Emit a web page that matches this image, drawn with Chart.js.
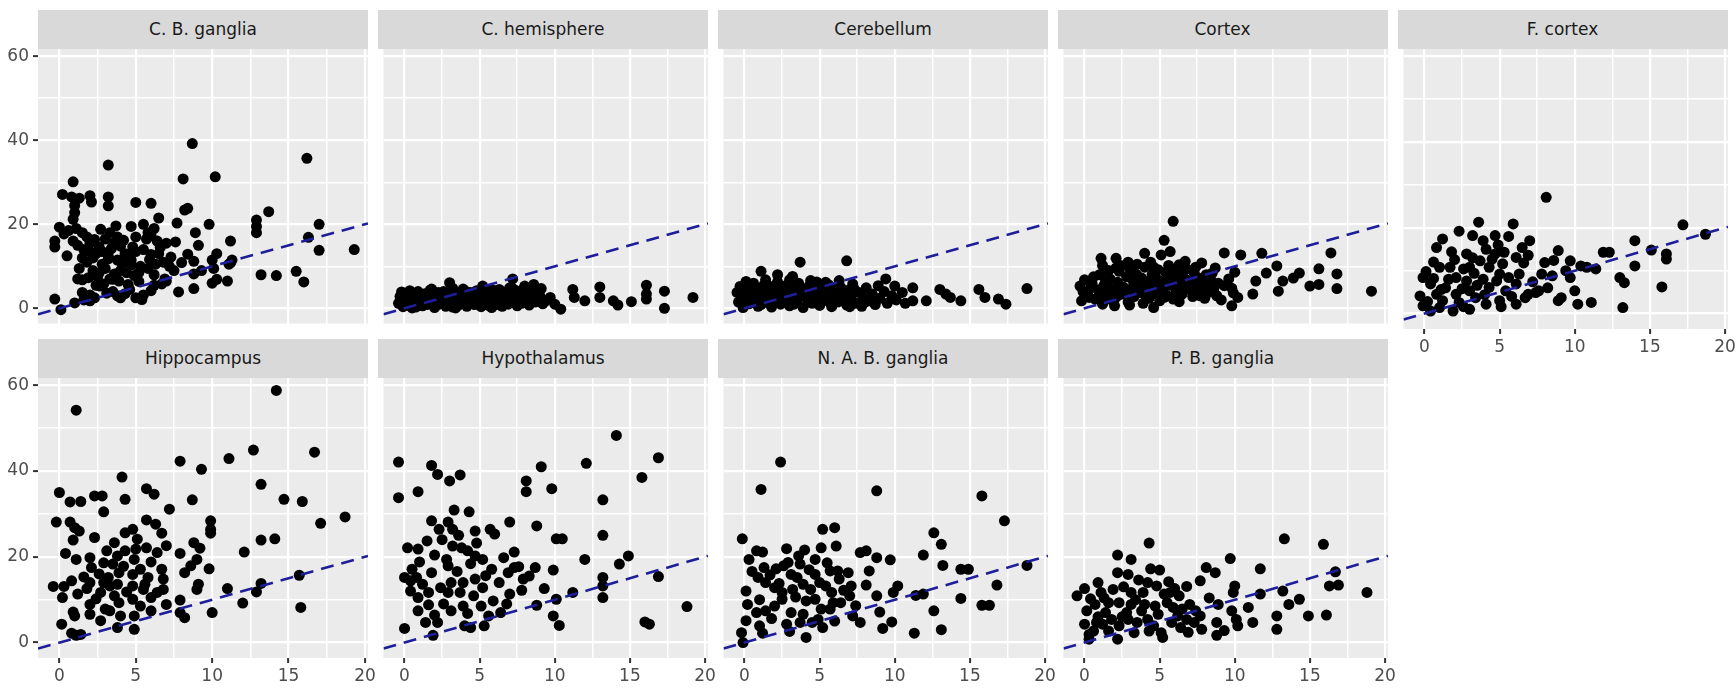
<!DOCTYPE html>
<html>
<head>
<meta charset="utf-8">
<script src="https://cdn.jsdelivr.net/npm/chart.js@4.4.0/dist/chart.umd.min.js"></script>
<style>
  body { margin: 0; background: #fff; width: 1736px; height: 688px; overflow: hidden; position: relative; }
  .strip { position: absolute; background: #D9D9D9; color: #1A1A1A; font-family: "DejaVu Sans", sans-serif; font-size: 17px; text-align: center; }
  canvas { position: absolute; }
</style>
</head>
<body>
<script>
// Panel names (facets)
const regions = ['C. B. ganglia', 'C. hemisphere', 'Cerebellum', 'Cortex', 'F. cortex',
                 'Hippocampus', 'Hypothalamus', 'N. A. B. ganglia', 'P. B. ganglia'];

// Points per panel, [x, y]
const cbGanglia = [[8.7,39.2],[16.2,35.7],[3.2,34.1],[8.1,30.8],[10.2,31.3],[0.9,30.1],[0.2,27.1],[0.8,26.5],[1.3,26.2],[2.0,26.8],
  [2.1,25.3],[3.2,26.5],[3.2,24.4],[6.0,25.0],[5.0,25.2],[1.0,24.5],[1.0,22.8],[0.9,21.2],[8.4,23.8],[8.2,23.4],[0.0,19.3],[0.3,17.7],
  [-0.3,16.0],[-0.3,14.6],[1.5,18.0],[1.8,17.0],[3.3,18.0],[3.0,16.5],[3.8,17.0],[3.5,15.5],[4.7,19.5],[5.5,20.0],[6.5,21.5],[5.0,17.0],
  [5.7,16.5],[6.4,16.0],[6.2,19.0],[0.9,16.0],[1.2,15.0],[1.6,14.0],[2.0,13.5],[2.4,13.0],[2.8,13.5],[3.2,12.5],[1.5,12.0],[2.2,12.0],
  [7.7,20.3],[8.9,18.0],[9.8,20.0],[7.6,15.8],[8.4,12.9],[9.1,15.0],[8.8,11.2],[10.0,11.5],[10.3,13.0],[10.1,9.5],[5.5,14.0],[6.0,12.8],
  [6.6,14.5],[7.0,15.5],[4.3,13.0],[4.7,11.5],[5.3,10.0],[5.8,9.5],[6.3,10.5],[6.2,8.0],[7.0,6.5],[11.2,16.0],[11.1,10.5],[11.0,6.5],
  [12.9,21.0],[12.9,19.5],[12.9,18.0],[13.7,23.0],[13.2,8.0],[14.2,7.8],[15.5,8.8],[16.0,6.3],[16.3,16.9],[17.0,20.0],[17.0,13.8],
  [19.3,14.0],[10.0,6.0],[10.3,6.9],[8.8,8.2],[8.8,4.7],[7.8,3.9],[8.0,10.9],[11.3,11.5],[11.2,10.8],[-0.3,2.2],[0.1,-0.3],[1.0,1.3],
  [1.6,2.0],[2.0,1.8],[2.3,2.5],[1.2,7.0],[1.5,6.8],[1.9,7.3],[2.5,7.5],[2.4,5.5],[2.9,5.8],[1.5,3.8],[2.0,3.2],[3.5,4.0],[3.8,3.0],
  [4.0,2.5],[4.3,3.5],[3.3,7.0],[3.6,8.2],[3.9,6.5],[4.0,9.0],[4.4,8.5],[4.7,10.3],[4.9,7.8],[5.2,8.5],[5.0,2.5],[5.4,2.1],[5.5,3.2],
  [6.2,5.5],[6.7,5.8],[6.9,7.0],[4.4,12.5],[3.8,11.5],[2.8,10.5],[3.2,11.8],[3.5,6.9],[2.65,5.3],[4.5,5.7],[2.0,15.5],[5.8,18.0],
  [6.0,17.3],[4.2,16.2],[3.4,14.2],[4.0,14.8],[2.6,14.6],[1.8,11.0],[0.6,18.5],[7.3,12.2],[6.8,11.0],[7.5,9.0],[5.0,13.5],[9.3,9.0],
  [4.6,4.5],[3.0,9.5],[2.2,9.0],[1.3,9.5],[2.6,8.4],[3.1,3.6],[4.1,10.6],[4.8,14.6],[5.9,11.6],[6.5,13.0],[2.3,16.4],[1.1,19.0],
  [3.7,19.6],[5.2,6.4],[6.0,4.2],[7.2,10.0],[0.5,12.5],[2.7,18.8]];

const cHemisphere = [[-0.4,1.2],[-0.3,2.8],[-0.1,0.4],[0.0,3.6],[0.15,1.9],[0.2,0.8],[0.35,4.2],[0.4,2.5],[0.55,1.1],[0.6,3.1],[0.75,0.3],
  [0.8,2.0],[0.9,4.0],[1.05,1.5],[1.1,2.7],[1.2,0.6],[1.35,3.5],[1.4,1.9],[1.5,0.9],[1.65,2.4],[1.7,4.3],[1.85,1.3],[1.9,3.0],[2.0,0.2],
  [2.1,2.1],[2.25,3.8],[2.3,1.0],[2.45,2.6],[2.5,1.6],[2.6,4.0],[2.75,0.5],[2.8,3.2],[2.9,2.0],[3.0,6.1],[3.05,1.2],[3.1,2.9],[3.2,0.3],
  [3.3,3.9],[3.45,1.7],[3.5,2.4],[3.6,0.8],[3.7,3.4],[3.85,1.4],[3.9,4.6],[4.0,2.2],[4.15,0.5],[4.2,3.0],[4.3,1.1],[4.4,3.8],[4.5,2.0],
  [4.65,0.9],[4.7,2.8],[4.8,4.2],[4.95,1.5],[5.0,3.3],[5.1,0.4],[5.2,5.3],[5.25,2.3],[5.3,1.2],[5.45,3.7],[5.5,2.0],[5.6,0.7],[5.7,3.0],
  [5.85,1.7],[5.9,4.3],[6.0,2.5],[6.1,0.9],[6.2,3.5],[6.3,4.5],[6.35,1.6],[6.4,2.7],[6.5,0.5],[6.6,3.9],[6.75,1.9],[6.8,2.9],[6.9,1.0],
  [7.0,3.4],[7.1,2.2],[7.2,7.0],[7.25,4.6],[7.3,1.4],[7.4,3.0],[7.5,0.6],[7.65,2.3],[7.7,3.8],[7.8,1.2],[7.9,2.7],[8.0,5.3],[8.1,1.9],
  [8.2,3.1],[8.3,0.8],[8.5,2.5],[8.6,5.7],[8.7,1.5],[8.9,4.5],[9.0,3.0],[9.2,1.1],[9.4,1.8],[9.7,2.6],[10.0,1.0],[10.4,-0.2],[11.2,4.5],
  [11.3,2.6],[12.0,1.8],[13.0,5.1],[13.0,2.6],[13.9,1.8],[14.2,0.8],[15.1,1.6],[16.1,5.5],[16.1,3.4],[16.1,2.2],[17.3,4.1],[17.3,0.0],
  [19.2,2.6],[-0.2,3.9],[0.5,0.1],[1.3,1.2],[2.2,2.9],[3.4,0.1],[4.6,3.3],[5.8,0.2],[6.9,3.9],[7.6,1.8],[8.4,3.7],[0.3,3.0],[1.0,3.3],
  [1.8,4.6],[2.6,2.2],[3.2,4.8],[4.1,4.0],[4.9,2.5],[5.6,4.4],[6.2,1.2],[7.0,4.9],[7.8,4.3],[8.8,2.0],[9.1,4.7]];

const cerebellum = [[1.1,8.8],[3.7,11.0],[6.8,11.3],[9.4,7.0],[10.0,5.3],[11.2,4.9],[11.2,1.8],[12.1,1.8],[13.0,4.5],[13.4,3.4],
  [13.7,2.6],[14.4,1.8],[15.6,4.5],[16.0,2.6],[16.9,2.2],[17.4,1.0],[18.8,4.7],[-0.5,3.8],[-0.4,1.5],[-0.3,5.2],[-0.1,0.2],[0.0,2.9],
  [0.2,4.6],[0.3,1.1],[0.5,3.4],[0.6,6.0],[0.8,2.2],[0.9,0.5],[1.0,4.2],[1.2,2.8],[1.3,5.6],[1.5,1.4],[1.6,3.6],[1.8,0.3],[1.9,4.9],
  [2.0,2.4],[2.2,6.3],[2.3,3.2],[2.4,1.0],[2.6,4.4],[2.7,2.0],[2.8,5.5],[3.0,0.6],[3.1,3.7],[3.2,2.5],[3.4,4.8],[3.5,1.5],[3.6,6.0],
  [3.8,3.0],[3.9,0.2],[4.0,4.2],[4.2,2.1],[4.3,5.3],[4.5,1.2],[4.6,3.5],[4.8,6.3],[4.9,2.6],[5.0,0.7],[5.2,4.5],[5.3,1.9],[5.5,3.2],
  [5.6,5.6],[5.8,0.4],[5.9,2.8],[6.0,4.6],[6.2,1.5],[6.3,6.6],[6.5,3.6],[6.6,2.3],[6.8,0.8],[6.9,4.3],[7.1,2.9],[7.2,5.8],[7.4,1.2],
  [7.6,3.8],[7.8,0.5],[7.9,2.6],[8.1,4.9],[8.3,1.8],[8.5,3.4],[8.7,0.9],[8.9,5.4],[9.0,2.4],[9.3,4.0],[9.5,1.2],[9.8,3.0],[10.1,2.0],
  [10.5,3.8],[10.7,1.2],[-0.2,4.4],[0.4,2.0],[1.1,0.9],[1.7,5.2],[2.5,3.8],[3.3,1.0],[4.1,3.0],[4.7,4.0],[5.4,2.4],[6.1,3.9],[6.7,1.6],
  [7.3,4.6],[8.0,1.4],[0.7,5.0],[2.9,3.0],[3.7,5.0],[5.1,3.6],[5.7,1.3],[6.4,5.0],[7.0,0.4],[0.1,6.4],[1.4,6.8],[2.1,5.6],[3.0,6.8],
  [4.4,6.6],[5.4,6.2],[2.2,8.0],[3.2,7.6]];

const cortex = [[5.9,20.7],[5.3,16.2],[5.7,13.5],[1.1,11.9],[2.1,11.9],[4.0,13.1],[5.1,12.7],[9.3,13.2],[10.4,12.7],[11.8,13.1],
  [16.4,13.2],[7.8,10.8],[6.3,10.4],[12.8,10.1],[12.1,8.4],[14.3,8.4],[15.6,9.4],[16.8,8.2],[11.4,6.5],[13.2,6.5],[13.9,7.2],[15.0,5.3],
  [15.6,5.7],[16.8,4.7],[19.1,4.1],[12.9,4.1],[11.2,3.4],[9.8,0.6],[9.9,3.7],[8.8,3.0],[8.2,3.7],[4.6,0.2],[2.0,0.6],[-0.2,1.8],[-0.3,5.3],
  [0.2,3.5],[0.5,6.0],[0.7,2.2],[0.9,4.4],[1.0,8.0],[1.2,1.0],[1.3,5.5],[1.5,3.0],[1.6,9.0],[1.7,7.0],[1.9,4.0],[2.0,2.2],[2.2,6.2],
  [2.3,8.8],[2.4,10.2],[2.5,3.4],[2.6,5.0],[2.8,7.5],[2.9,1.5],[3.0,9.5],[3.1,4.6],[3.2,6.8],[3.3,2.8],[3.4,8.2],[3.5,10.5],[3.6,5.6],
  [3.7,3.8],[3.8,7.2],[3.9,1.2],[4.0,9.8],[4.1,4.8],[4.2,6.0],[4.3,2.4],[4.4,11.0],[4.5,8.0],[4.6,3.5],[4.7,5.2],[4.8,7.0],[4.9,9.2],
  [5.0,1.8],[5.1,4.4],[5.2,6.5],[5.4,8.6],[5.5,3.0],[5.6,10.2],[5.7,5.5],[5.8,7.6],[5.9,2.2],[6.0,9.0],[6.1,4.2],[6.2,6.4],[6.4,8.0],
  [6.5,3.4],[6.6,5.0],[6.7,7.0],[6.8,9.4],[7.0,4.6],[7.1,6.2],[7.2,2.8],[7.3,8.4],[7.5,5.6],[7.6,7.2],[7.8,4.0],[7.9,6.4],[8.0,2.4],
  [8.1,8.0],[8.3,5.2],[8.4,6.8],[8.6,4.4],[8.7,9.6],[8.9,6.0],[9.1,2.0],[9.3,5.4],[9.6,7.0],[9.8,4.8],[10.0,8.6],[10.2,2.6],[-0.1,4.0],
  [0.3,2.6],[0.6,7.5],[1.1,3.2],[1.4,6.6],[1.8,2.0],[2.1,9.6],[2.7,4.2],[3.0,0.8],[3.5,7.8],[4.1,3.0],[4.6,9.8],[5.3,2.6],[6.3,1.6],
  [6.9,5.8],[7.4,9.8],[8.2,7.4],[0.0,6.8],[1.2,10.2],[2.3,5.6],[0.4,4.9],[1.6,5.0],[2.2,3.0],[3.3,5.8],[4.4,6.8],[5.3,5.0],[6.4,6.8],
  [7.7,3.0],[8.5,8.4],[2.9,11.0],[6.7,11.2],[7.3,3.8]];

const fCortex = [[8.1,27.1],[17.2,20.7],[18.7,18.5],[14.0,17.0],[15.1,14.8],[16.1,13.9],[16.1,12.7],[14.0,11.1],[15.8,6.2],[13.0,8.4],
  [13.3,7.2],[13.2,1.4],[12.3,14.3],[11.9,14.3],[11.1,2.6],[10.2,2.2],[10.0,5.3],[9.7,8.4],[9.1,3.7],[8.9,3.0],[10.4,11.1],[10.8,10.8],
  [9.7,12.3],[8.9,14.7],[8.0,11.9],[7.0,17.0],[5.9,20.9],[4.7,18.2],[3.6,21.3],[3.2,18.2],[2.3,19.2],[1.2,17.4],[0.8,15.4],[2.8,13.9],
  [4.1,15.0],[4.7,13.9],[5.3,14.3],[6.5,15.4],[6.1,13.1],[7.8,9.2],[8.5,8.8],[6.9,4.5],[7.4,4.9],[6.1,2.2],[5.0,3.0],[4.1,2.2],[3.0,1.0],
  [1.9,0.6],[0.4,0.6],[-0.1,1.8],[-0.3,4.1],[-0.1,8.4],[0.4,6.9],[1.0,10.8],[1.7,10.8],[2.1,8.4],[3.0,10.8],[3.9,8.0],[4.3,10.8],
  [5.0,9.2],[5.6,8.4],[6.3,9.2],[4.3,6.1],[5.4,5.3],[2.1,4.5],[3.0,5.3],[0.8,4.5],[1.2,3.0],[2.3,2.6],[3.4,3.7],[6.7,3.7],[7.6,5.3],
  [6.1,6.9],[2.8,7.6],[3.7,12.3],[4.5,12.7],[0.1,9.8],[0.6,12.0],[1.4,6.0],[1.6,8.0],[2.0,12.6],[2.5,5.8],[3.3,9.4],[3.5,6.6],[4.0,4.4],
  [4.8,7.6],[5.2,11.6],[5.8,4.0],[6.6,11.8],[7.2,7.4],[8.2,6.0],[8.6,12.4],[9.4,10.0],[11.4,10.4],[1.0,1.4],[2.6,1.6],[0.2,2.8],
  [1.8,14.4],[2.6,10.4],[3.9,17.0],[4.9,16.0],[5.6,18.0],[6.9,13.6],[1.1,5.6],[0.6,8.2],[3.2,13.0],[5.1,1.6]];

const hippocampus = [[1.1,54.2],[14.2,58.8],[7.9,42.3],[9.3,40.4],[11.1,42.9],[12.7,44.9],[16.7,44.4],[4.1,38.6],[13.2,36.9],[14.7,33.4],
  [15.9,32.9],[18.7,29.3],[17.1,27.8],[0.0,35.0],[0.7,32.8],[1.4,32.9],[2.3,34.2],[2.8,34.2],[2.9,30.5],[4.3,33.4],[5.7,35.9],[6.2,34.6],
  [7.2,31.1],[8.7,33.3],[9.9,28.4],[9.9,25.5],[9.9,26.4],[13.2,23.9],[14.1,24.2],[12.1,21.1],[-0.2,28.1],[0.7,28.1],[1.0,26.8],[1.3,26.0],
  [0.9,23.9],[1.1,19.4],[2.3,24.5],[5.7,28.6],[6.7,25.5],[6.3,27.6],[4.8,26.4],[4.3,25.6],[5.1,24.1],[3.6,23.3],[3.1,21.4],[4.3,21.4],
  [4.9,19.4],[5.7,22.1],[6.4,21.0],[2.0,19.8],[2.1,17.5],[2.9,18.6],[3.5,18.3],[3.9,16.3],[5.3,17.1],[5.8,15.2],[6.7,17.1],[7.9,20.8],
  [8.8,23.3],[9.0,19.4],[8.2,16.3],[9.8,17.2],[9.1,13.6],[9.0,12.4],[11.0,12.6],[12.0,9.2],[12.9,11.8],[13.2,13.8],[15.7,15.7],[15.8,8.2],
  [-0.4,13.1],[0.3,13.1],[0.2,10.5],[0.8,14.4],[1.2,11.3],[0.9,7.1],[1.0,6.2],[0.15,4.3],[0.8,2.2],[1.4,1.9],[1.1,1.7],[2.0,14.0],
  [1.8,12.6],[2.0,8.9],[2.0,6.6],[2.7,5.1],[3.0,7.8],[2.7,11.7],[2.9,14.0],[3.3,13.2],[3.6,10.9],[3.8,13.6],[3.3,7.4],[3.8,3.5],[4.0,6.2],
  [3.9,9.3],[4.8,13.2],[4.8,10.1],[4.9,6.2],[4.9,3.1],[5.3,8.5],[5.5,12.4],[6.0,10.5],[6.0,7.4],[6.4,11.7],[6.8,12.4],[7.0,8.9],[7.9,9.9],
  [7.9,7.0],[8.2,5.8],[10.0,7.0],[6.8,14.8],[4.8,15.9],[3.8,20.2],[2.6,16.0],[3.2,15.2],[4.2,17.8],[5.0,21.8],[6.0,18.8],[7.0,22.6],
  [1.6,15.3],[2.4,10.2],[4.4,11.8],[5.6,13.6],[0.4,20.8],[9.2,22.0],[8.6,17.9]];

const hypothalamus = [[14.1,48.3],[16.9,43.1],[-0.4,42.1],[1.8,41.3],[2.2,39.2],[3.0,37.7],[3.7,39.1],[0.9,35.2],[-0.4,33.8],[8.1,37.7],
  [8.1,35.2],[9.1,41.0],[9.8,35.9],[12.1,41.8],[15.8,38.5],[13.2,33.3],[13.2,25.0],[8.8,27.2],[7.0,28.1],[10.1,24.2],[10.5,24.2],
  [3.3,30.9],[4.3,30.5],[1.8,28.4],[2.9,28.1],[3.2,26.4],[2.3,26.4],[4.7,26.0],[5.7,26.4],[6.0,25.3],[0.2,22.1],[0.9,21.8],[1.5,23.7],
  [2.0,20.4],[3.2,22.5],[3.8,22.1],[4.2,21.4],[4.7,20.2],[5.2,19.4],[2.8,19.4],[2.9,17.9],[7.3,21.1],[7.3,17.5],[7.6,17.7],[8.7,17.5],
  [9.9,16.9],[12.0,19.4],[14.3,18.3],[14.9,20.2],[16.9,15.4],[13.2,15.2],[13.2,13.2],[13.2,10.5],[11.2,11.7],[10.1,10.1],[9.9,6.2],
  [10.3,4.0],[8.8,8.7],[9.3,12.6],[18.8,8.4],[16.0,4.8],[16.3,4.3],[0.0,3.3],[1.9,1.7],[2.2,4.7],[0.9,7.4],[1.4,4.7],[0.9,10.5],
  [1.6,11.7],[0.0,15.2],[0.5,17.1],[0.8,15.2],[0.4,14.4],[1.8,16.3],[3.1,7.4],[3.9,8.5],[2.9,11.7],[3.1,14.0],[3.9,14.0],[3.7,11.7],
  [4.7,14.8],[4.6,10.9],[5.1,8.5],[4.0,3.9],[4.4,3.5],[5.3,3.9],[5.6,6.2],[6.4,7.0],[5.8,17.1],[6.3,14.0],[7.0,11.3],[6.9,16.3],
  [7.9,14.8],[8.3,15.5],[5.2,12.8],[5.9,9.7],[1.2,13.6],[2.4,12.8],[2.6,9.0],[3.5,16.6],[4.4,18.4],[1.0,18.8],[6.6,19.8],[5.4,15.6],
  [2.0,6.4],[4.2,6.8],[6.8,9.0],[7.8,12.2],[3.6,25.0],[4.8,23.2],[2.5,24.0],[0.4,12.0],[1.6,8.8]];

const nabGanglia = [[2.4,42.1],[1.1,35.7],[8.8,35.4],[15.8,34.2],[17.3,28.4],[-0.15,24.2],[5.2,26.4],[6.0,26.8],[12.6,25.6],
  [13.1,22.9],[11.9,20.4],[18.8,18.0],[13.2,18.0],[14.4,17.1],[14.9,17.1],[16.8,13.4],[14.4,10.3],[15.8,8.7],[16.3,8.7],[12.6,7.4],
  [13.1,3.0],[11.3,2.2],[11.4,11.0],[11.9,11.3],[10.2,13.2],[9.9,11.7],[9.8,4.8],[9.2,3.3],[9.0,7.1],[8.8,10.9],[8.8,19.8],[9.7,19.3],
  [8.3,16.7],[8.1,13.4],[7.7,21.0],[8.1,21.4],[6.9,16.3],[7.1,13.2],[7.2,6.2],[7.7,4.7],[6.2,16.7],[6.3,14.8],[5.8,11.7],[5.9,9.3],
  [5.1,22.1],[6.1,22.5],[4.0,21.6],[2.8,21.9],[4.7,19.4],[3.7,18.3],[2.6,17.9],[2.1,17.2],[1.3,17.5],[0.3,19.4],[0.8,21.4],[1.2,21.1],
  [0.9,15.2],[1.4,14.0],[2.0,12.8],[2.5,11.7],[3.2,12.4],[3.1,15.9],[3.9,13.6],[4.7,15.9],[5.0,14.0],[5.4,13.2],[4.1,9.7],[4.7,10.1],
  [5.1,7.8],[5.7,7.8],[3.9,6.6],[3.7,4.7],[4.1,1.2],[4.5,4.7],[5.2,3.5],[4.9,5.4],[2.8,4.3],[1.0,3.9],[1.2,2.2],[0.1,5.1],[-0.2,2.3],
  [-0.1,0.0],[0.1,12.0],[0.2,8.9],[0.8,7.0],[1.4,7.4],[2.0,8.5],[2.5,10.1],[2.9,18.7],[3.5,15.2],[3.1,7.0],[6.4,9.3],[7.0,10.9],
  [5.7,16.7],[1.7,15.8],[2.3,13.8],[3.4,10.6],[4.3,17.0],[5.5,18.6],[6.6,12.2],[7.4,8.6],[1.0,10.0],[1.8,5.6],[3.0,2.6],[6.0,5.0],
  [4.4,12.4],[3.6,20.2],[0.5,16.6]];

const pbGanglia = [[4.3,23.2],[13.3,24.2],[15.9,22.9],[9.7,19.6],[2.2,20.4],[3.1,19.4],[8.1,17.5],[8.7,16.3],[11.7,17.2],[16.7,16.5],
  [4.4,17.2],[5.0,16.9],[2.2,16.3],[2.9,15.9],[7.7,14.4],[6.8,13.1],[10.0,13.2],[11.7,11.3],[9.9,11.7],[13.2,12.0],[16.3,13.2],
  [16.9,13.4],[18.8,11.7],[14.3,10.1],[13.6,8.9],[14.9,6.2],[16.1,6.4],[12.8,6.2],[12.8,3.1],[11.2,4.7],[10.9,8.2],[10.1,5.4],[10.2,3.9],
  [9.8,7.4],[8.9,8.9],[8.8,4.7],[8.8,1.7],[7.8,3.1],[7.3,4.7],[7.0,8.9],[7.4,7.4],[-0.5,10.9],[0.0,12.6],[0.9,14.0],[1.1,11.7],[1.6,9.3],
  [2.3,9.3],[3.1,11.7],[3.9,11.7],[4.2,14.0],[4.8,13.2],[5.3,11.3],[5.7,11.7],[6.3,10.9],[5.5,9.3],[4.7,8.5],[4.0,8.9],[3.1,8.9],
  [0.7,8.9],[0.15,7.4],[0.0,4.3],[0.3,1.9],[0.3,0.8],[0.8,4.7],[1.2,4.3],[1.8,5.4],[2.3,3.9],[2.2,0.8],[2.9,5.4],[3.5,4.7],[4.2,5.4],
  [4.6,3.9],[5.1,2.3],[5.2,1.2],[5.8,4.7],[6.2,6.2],[6.5,7.8],[6.4,3.5],[6.8,5.4],[3.8,7.4],[2.8,7.0],[1.4,7.0],[0.6,2.7],[1.6,2.7],
  [3.3,2.3],[4.3,2.7],[1.9,12.4],[2.6,13.0],[3.6,14.6],[5.6,14.2],[6.0,12.6],[0.4,10.2],[1.3,10.4],[2.5,6.0],[4.9,6.6],[5.9,8.2],
  [3.4,10.0],[0.9,6.0],[6.9,2.4],[7.7,6.2],[8.3,10.4],[9.3,2.8]];

const panelPoints = [cbGanglia, cHemisphere, cerebellum, cortex, fCortex, hippocampus, hypothalamus, nabGanglia, pbGanglia];

// Axis ticks (labelled) and axis limits
const xTicks = [0, 5, 10, 15, 20];
const yTicks = [0, 20, 40, 60];
const xLimits = [-1.4, 20.2];
const yLimits = [-3.6, 61.7];

// grid lines: labelled ticks plus the midpoints between them
function withMinor(ticks) {
  const out = [];
  ticks.forEach((t, i) => {
    out.push(t);
    if (i < ticks.length - 1) out.push((t + ticks[i + 1]) / 2);
  });
  return out;
}
const xGrid = withMinor(xTicks);
const yGrid = withMinor(yTicks);

// layout of the facet grid
const plotW = 330, plotH = 280, stripH = 39;
const colLeft = [38, 378, 718, 1057.5, 1397.5];
const rowTop = [9.5, 339];
const yAxisW = 38, xAxisH = 36, padTop = 10, padRight = 12;

const panelBg = {
  id: 'panelBg',
  beforeDraw(chart) {
    const a = chart.chartArea;
    const ctx = chart.ctx;
    ctx.save();
    ctx.fillStyle = '#EBEBEB';
    ctx.fillRect(a.left, a.top, a.right - a.left, a.bottom - a.top);
    ctx.restore();
  }
};

regions.forEach((name, i) => {
  const col = i % 5, row = Math.floor(i / 5);
  const showY = col === 0;
  const showX = row === 1 || i === 4;
  const yw = showY ? yAxisW : 0;
  const xh = showX ? xAxisH : 0;
  const left = colLeft[col];
  const top = rowTop[row] + stripH;

  const strip = document.createElement('div');
  strip.className = 'strip';
  strip.textContent = name;
  strip.style.left = left + 'px';
  strip.style.top = rowTop[row] + 'px';
  strip.style.width = plotW + 'px';
  strip.style.height = stripH + 'px';
  strip.style.lineHeight = stripH + 'px';
  document.body.appendChild(strip);

  const canvas = document.createElement('canvas');
  canvas.width = yw + plotW + padRight;
  canvas.height = padTop + plotH + xh;
  canvas.style.left = (left - yw) + 'px';
  canvas.style.top = (top - padTop) + 'px';
  document.body.appendChild(canvas);

  const tickFont = { family: 'DejaVu Sans', size: 17 };

  new Chart(canvas, {
    type: 'scatter',
    data: {
      datasets: [
        {
          // identity line y = x across the panel
          type: 'line',
          data: [{ x: xLimits[0], y: xLimits[0] }, { x: xLimits[1], y: xLimits[1] }],
          borderColor: '#1E1E9A',
          borderWidth: 2.6,
          borderDash: [13, 8],
          pointRadius: 0,
          fill: false,
          order: 0
        },
        {
          data: panelPoints[i].map(p => ({ x: p[0], y: p[1] })),
          backgroundColor: '#000000',
          borderWidth: 0,
          pointRadius: 5.5,
          order: 1
        }
      ]
    },
    options: {
      responsive: false,
      animation: false,
      devicePixelRatio: 1,
      layout: { padding: { top: padTop, right: padRight, bottom: 0, left: 0 } },
      plugins: { legend: { display: false }, tooltip: { enabled: false } },
      scales: {
        x: {
          type: 'linear',
          min: xLimits[0],
          max: xLimits[1],
          afterBuildTicks: s => { s.ticks = xGrid.map(v => ({ value: v })); },
          afterFit: s => { s.height = xh; s.paddingLeft = 0; s.paddingRight = 0; },
          border: { display: false },
          grid: {
            color: '#FFFFFF',
            lineWidth: c => xTicks.includes(c.tick.value) ? 2.2 : 1.5,
            tickLength: 5,
            tickWidth: 2,
            tickColor: c => (showX && xTicks.includes(c.tick.value)) ? '#333333' : 'rgba(0,0,0,0)'
          },
          ticks: {
            display: showX,
            autoSkip: false,
            maxRotation: 0,
            padding: 3,
            color: '#4D4D4D',
            font: tickFont,
            callback: v => xTicks.includes(v) ? String(v) : ''
          }
        },
        y: {
          type: 'linear',
          min: yLimits[0],
          max: yLimits[1],
          afterBuildTicks: s => { s.ticks = yGrid.map(v => ({ value: v })); },
          afterFit: s => { s.width = yw; s.paddingTop = 0; s.paddingBottom = 0; },
          border: { display: false },
          grid: {
            color: '#FFFFFF',
            lineWidth: c => yTicks.includes(c.tick.value) ? 2.2 : 1.5,
            tickLength: 5,
            tickWidth: 2,
            tickColor: c => (showY && yTicks.includes(c.tick.value)) ? '#333333' : 'rgba(0,0,0,0)'
          },
          ticks: {
            display: showY,
            autoSkip: false,
            padding: 4,
            color: '#4D4D4D',
            font: tickFont,
            callback: v => yTicks.includes(v) ? String(v) : ''
          }
        }
      }
    },
    plugins: [panelBg]
  });
});
</script>
</body>
</html>
